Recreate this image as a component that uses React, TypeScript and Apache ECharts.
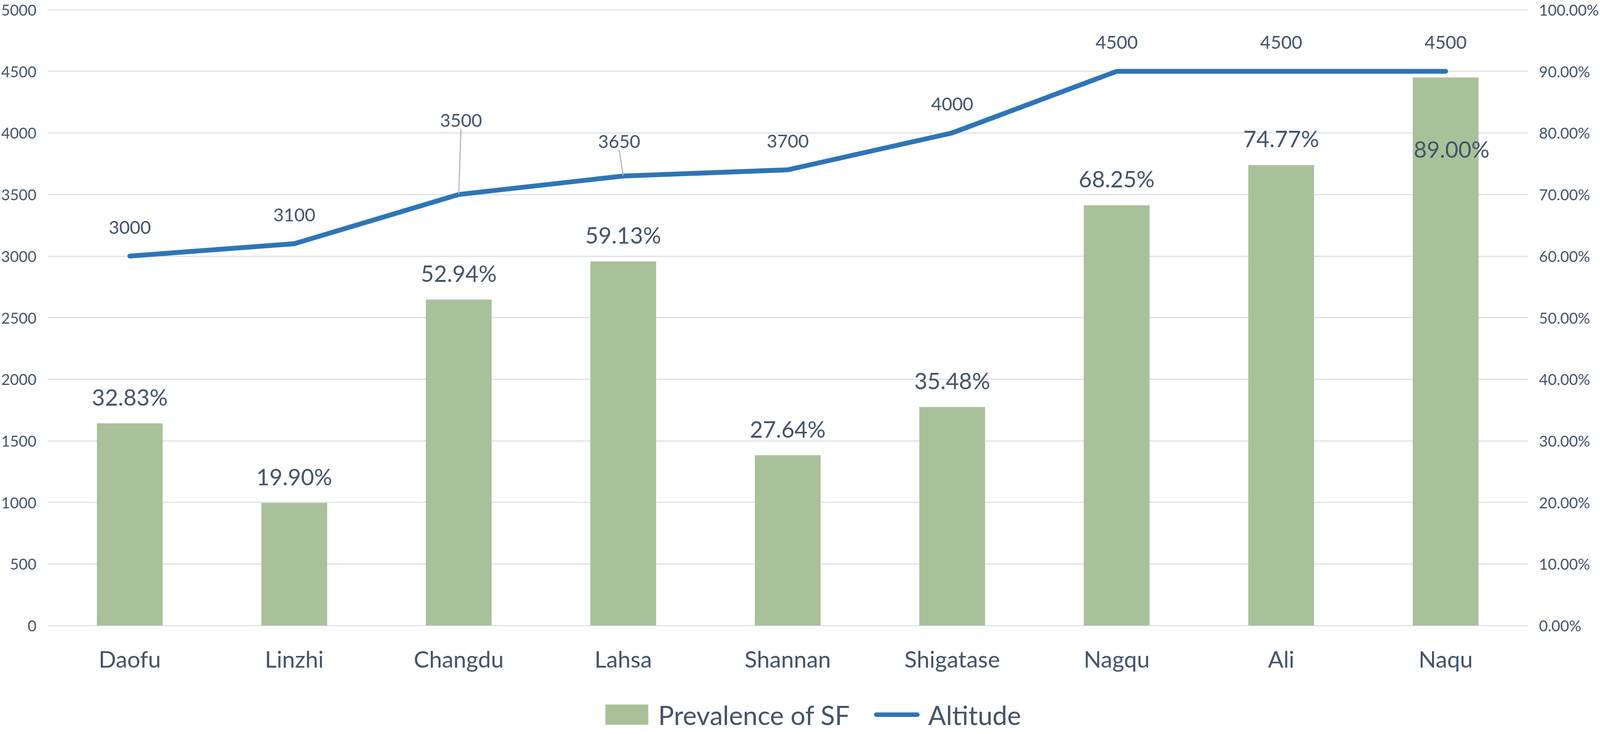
import React, { useEffect, useRef } from "react";
import * as echarts from "echarts";

const categories = ["Daofu", "Linzhi", "Changdu", "Lahsa", "Shannan", "Shigatase", "Nagqu", "Ali", "Naqu"];
const prevalence = [32.83, 19.9, 52.94, 59.13, 27.64, 35.48, 68.25, 74.77, 89.0];
const altitude = [3000, 3100, 3500, 3650, 3700, 4000, 4500, 4500, 4500];
const altitudeAxis = { min: 0, max: 5000, interval: 500 };
const percentAxis = { min: 0, max: 100, interval: 10 };
const seriesNames = ["Prevalence of SF", "Altitude"];

const FONT = "Lato";
const TEXT = "#44546A";
const BAR = "#A9C19A";
const LINE = "#2E75B6";
const GRID = "#DEE1E6";
const REF_W = 4317;
const REF_H = 1880;

function buildOption(W: number, H: number) {
  const sx = W / REF_W;
  const sy = H / REF_H;
  const sf = Math.min(sx, sy);
  const X = (v: number) => v * sx;
  const Y = (v: number) => v * sy;
  const F = (v: number) => v * sf;
  const pct = (v: number) => v.toFixed(2) + "%";
  return {
    animation: false,
    backgroundColor: "#ffffff",
    textStyle: { fontFamily: FONT, color: TEXT },
    grid: { left: X(128), right: X(193), top: Y(25), bottom: Y(278), containLabel: false },
    legend: {
      left: X(1628),
      top: Y(1792),
      itemWidth: X(123),
      itemHeight: Y(52),
      itemGap: X(64),
      data: [
        { name: seriesNames[0], icon: "path://M0,0H110V52H0Z" },
        { name: seriesNames[1], icon: "path://M6,0H117A6,6 0 0 1 117,12H6A6,6 0 0 1 6,0Z" },
      ],
      textStyle: {
        fontSize: F(71),
        lineHeight: F(56),
        color: TEXT,
        fontFamily: FONT,
        padding: [0, 0, 0, X(18)],
      },
    },
    xAxis: {
      type: "category",
      data: categories,
      axisLine: { show: false },
      axisTick: { show: false },
      axisLabel: { interval: 0, fontSize: F(62), lineHeight: F(62), color: TEXT, margin: Y(56), fontFamily: FONT },
    },
    yAxis: [
      {
        type: "value",
        position: "left",
        min: altitudeAxis.min,
        max: altitudeAxis.max,
        interval: altitudeAxis.interval,
        axisLine: { show: false },
        axisTick: { show: false },
        axisLabel: { fontSize: F(41), color: TEXT, margin: X(30), fontFamily: FONT, formatter: (v: number) => String(v) },
        splitLine: { show: true, lineStyle: { color: GRID, width: Math.max(1, F(3)) } },
      },
      {
        type: "value",
        position: "right",
        min: percentAxis.min,
        max: percentAxis.max,
        interval: percentAxis.interval,
        axisLine: { show: false },
        axisTick: { show: false },
        axisLabel: { fontSize: F(41), color: TEXT, margin: X(30), fontFamily: FONT, formatter: (v: number) => pct(v) },
        splitLine: { show: false },
      },
    ],
    series: [
      {
        name: seriesNames[0],
        type: "bar",
        yAxisIndex: 1,
        barWidth: "40%",
        itemStyle: { color: BAR },
        data: prevalence.map((v, i) =>
          i === prevalence.length - 1
            ? { value: v, label: { position: "insideTop", distance: Y(154), offset: [X(16), 0] } }
            : v
        ),
        label: {
          show: true,
          position: "top",
          distance: Y(39),
          fontSize: F(61),
          lineHeight: F(61),
          color: TEXT,
          fontFamily: FONT,
          formatter: (p: any) => pct(p.value),
        },
        z: 2,
      },
      {
        name: seriesNames[1],
        type: "line",
        yAxisIndex: 0,
        data: altitude.map((v, i) =>
          i === 2 || i === 3
            ? { value: v, labelLine: { show: true, lineStyle: { color: "#ADB5C2", width: Math.max(1, F(3)) } } }
            : v
        ),
        symbol: "circle",
        symbolSize: 2,
        showSymbol: true,
        itemStyle: { color: LINE },
        lineStyle: { color: LINE, width: F(13), cap: "round", join: "round" },
        label: {
          show: true,
          position: "top",
          distance: Y(51),
          fontSize: F(49),
          lineHeight: F(49),
          color: TEXT,
          fontFamily: FONT,
        },
        labelLine: { show: false },
        labelLayout: (p: any) => {
          if (p.dataIndex === 2) return { dx: X(6), dy: Y(-116) };
          if (p.dataIndex === 3) return { dx: X(-11), dy: Y(-15) };
          return {};
        },
        z: 3,
      },
    ],
  };
}

export default function App() {
  const ref = useRef<HTMLDivElement>(null);
  useEffect(() => {
    if (!ref.current) return;
    document.body.style.margin = "0";
    const chart = echarts.init(ref.current, undefined, { renderer: "svg" });
    const draw = () => {
      const W = ref.current ? ref.current.clientWidth : window.innerWidth;
      const H = ref.current ? ref.current.clientHeight : window.innerHeight;
      chart.resize();
      chart.setOption(buildOption(W, H) as any, true);
    };
    draw();
    window.addEventListener("resize", draw);
    return () => {
      window.removeEventListener("resize", draw);
      chart.dispose();
    };
  }, []);
  return (
    <div
      ref={ref}
      style={{ position: "fixed", left: 0, top: 0, width: "100vw", height: "100vh", background: "#fff" }}
    />
  );
}
